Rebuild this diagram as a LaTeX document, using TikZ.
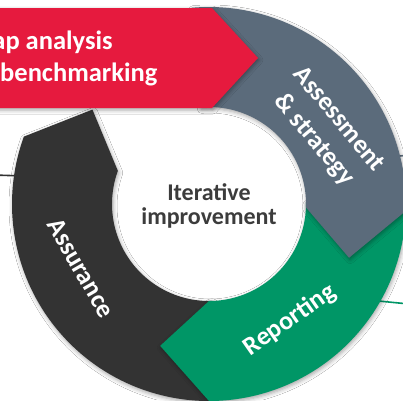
\documentclass[tikz,border=0pt]{standalone}
\usepackage{fontspec}
\setmainfont{Carlito}
\usetikzlibrary{shadows.blur}
\definecolor{gapred}{RGB}{230,26,62}
\definecolor{slatering}{RGB}{91,107,123}
\definecolor{greenring}{RGB}{0,150,102}
\definecolor{darkring}{RGB}{51,51,51}
\definecolor{coretext}{RGB}{60,60,60}

\begin{document}
\begin{tikzpicture}[x=1pt,y=1pt,
    ringshadow/.style={blur shadow={shadow xshift=1pt,shadow yshift=-2pt,
      shadow blur radius=4pt,shadow opacity=35}},
    ringlabel/.style={text=white,font=\fontsize{26}{32}\selectfont\bfseries,
      align=center},
    leader/.style={line width=1.6pt}]
  \fill[white] (-209,-196) rectangle (194,204);
  \useasboundingbox (-209,-196) rectangle (194,204);

  % leader lines running off the ring
  \coordinate (assure-tab) at (171.5:190);
  \coordinate (assure-out) at (-215,29);
  \coordinate (assess-tab) at (14.4:190);
  \coordinate (assess-out) at (200,49);
  \coordinate (report-tab) at (-30.5:190);
  \coordinate (report-out) at (200,-100);
  \draw[leader,darkring] (assure-tab) -- (assure-out);
  \draw[leader,slatering] (assess-tab) -- (assess-out);
  \draw[leader,greenring] (report-tab) -- (report-out);

  % ring arrows, clockwise from \from to \to, tip 19 degrees further on
  \foreach \col/\from/\to in {darkring/272/160,greenring/1/-90,slatering/95/-2}
    \fill[\col,ringshadow] (\from:197)
      arc[start angle=\from,end angle=\to,radius=197]
      -- ({\to-19}:150) -- (\to:97)
      arc[start angle=\to,end angle=\from,radius=97] -- cycle;

  % red banner over the top of the ring
  \fill[gapred,ringshadow] (-240,196) -- (3,196) -- (49,146) -- (3,96)
    -- (-240,96) -- cycle;

  \node[ringlabel,font=\fontsize{26.5}{32}\selectfont\bfseries,align=left,
        anchor=base west] (gap) at (-237,123) {Gap analysis\\\& benchmarking};
  \node[ringlabel,rotate=-50] (assess) at (117,74) {Assessment\\\& strategy};
  \node[ringlabel,rotate=35] (report) at (81,-116) {Reporting};
  \node[ringlabel,rotate=-60] (assure) at (-128,-64) {Assurance};
  \node[text=coretext,font=\fontsize{24}{24}\selectfont\bfseries,align=center]
    (core) at (0,-2) {Iterative\\improvement};
\end{tikzpicture}
\end{document}
